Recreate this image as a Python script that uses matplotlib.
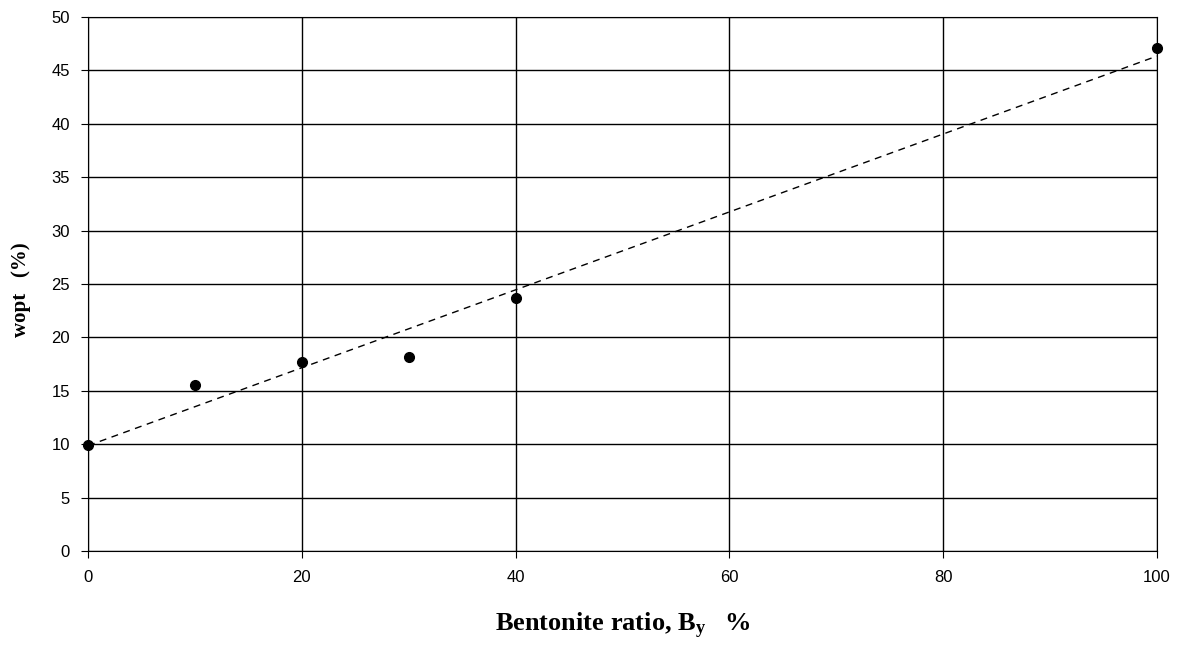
import numpy as np
import matplotlib
matplotlib.use("Agg")
import matplotlib.pyplot as plt

plt.rcParams["mathtext.fontset"] = "custom"
plt.rcParams["mathtext.bf"] = "Liberation Serif:bold"
plt.rcParams["mathtext.rm"] = "Liberation Serif:bold"
plt.rcParams["mathtext.default"] = "bf"

# Messwerte
bentonite = [0, 10, 20, 30, 40, 100]
w_opt = [9.9, 15.5, 17.7, 18.2, 23.7, 47.1]
x_ticks = [0, 20, 40, 60, 80, 100]
y_ticks = [0, 5, 10, 15, 20, 25, 30, 35, 40, 45, 50]

fig = plt.figure(figsize=(11.83, 6.49), dpi=100)
ax = fig.add_axes([0.0744, 0.151, 0.9036, 0.823])

# Trendlinie (linear)
k, d = np.polyfit(bentonite, w_opt, 1)
line = np.linspace(0, 100, 200)
ax.plot(line, k * line + d, color="black", lw=1, dashes=(5, 4))

ax.plot(bentonite, w_opt, "o", color="black", markersize=7, clip_on=False, zorder=5)

ax.set_xlim(0, 100)
ax.set_ylim(0, 50)
ax.set_xticks(x_ticks)
ax.set_yticks(y_ticks)
ax.grid(True, color="black", lw=1)
ax.set_axisbelow(True)
for s in ax.spines.values():
    s.set_color("black")
ax.tick_params(direction="out", length=5, color="black", labelsize=12)
ax.tick_params(axis="x", pad=9)
ax.tick_params(axis="y", pad=8)
for lbl in ax.get_xticklabels() + ax.get_yticklabels():
    lbl.set_family("Liberation Sans")

ax.set_xlabel(r"Bentonite ratio, B$_{y}$   %", family="Liberation Serif",
              fontweight="bold", fontsize=19, labelpad=18)
ax.set_ylabel("wopt   (%)", family="Liberation Serif", fontweight="bold",
              fontsize=15)
ax.yaxis.set_label_coords(-0.053, 0.489)

fig.savefig("out.png", dpi=100)
